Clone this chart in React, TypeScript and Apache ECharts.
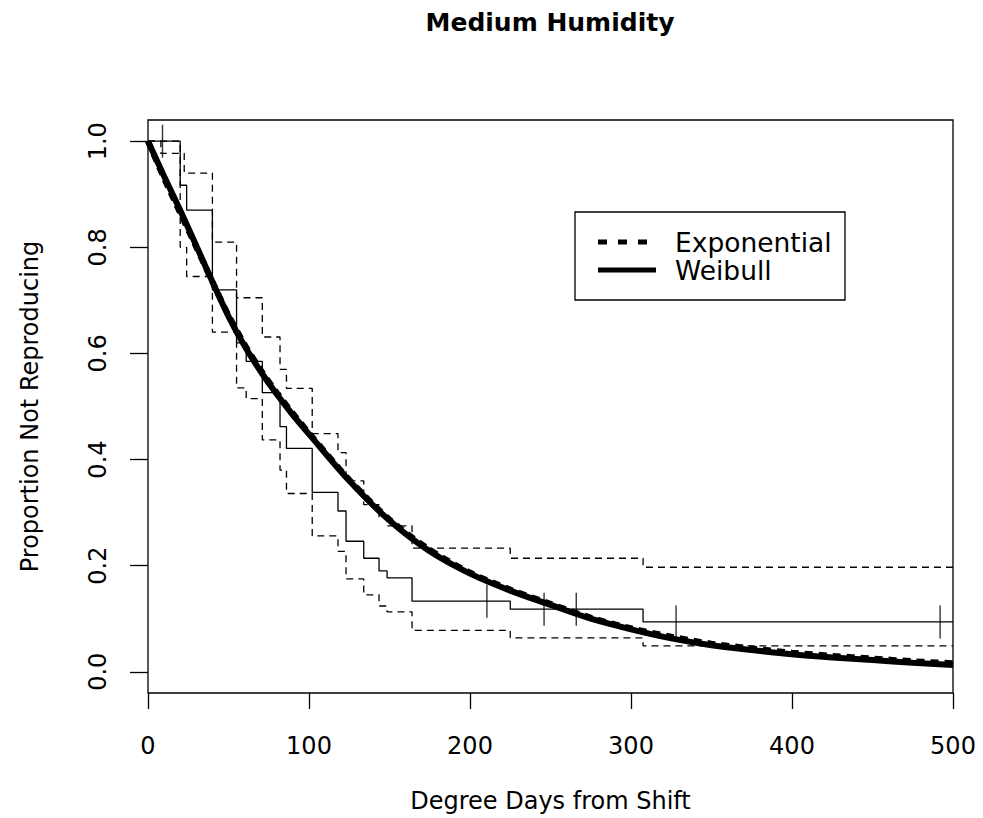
import React, { useEffect, useRef } from "react";
import * as echarts from "echarts";

// ---- Data ----
const xTicks = [0, 100, 200, 300, 400, 500];
const yTicks = [0, 0.2, 0.4, 0.6, 0.8, 1.0];

// Kaplan-Meier estimate (step function)
const kmTimes = [0, 20, 24, 40, 55, 61, 71, 82, 86, 102, 118, 123, 134, 143.5, 148.5, 164, 225, 307.5];
const kmSurv = [1.0, 0.917, 0.87, 0.72, 0.62, 0.585, 0.526, 0.462, 0.421, 0.338, 0.303, 0.246, 0.214, 0.19, 0.177, 0.133, 0.118, 0.094];

// Upper confidence band
const upperTimes = [0, 8, 22.5, 40, 55, 71, 82, 86, 102, 118, 123, 134, 143.5, 148.5, 164, 225, 307.5];
const upperSurv = [1.0, 0.977, 0.94, 0.81, 0.705, 0.631, 0.57, 0.534, 0.449, 0.413, 0.36, 0.315, 0.29, 0.275, 0.233, 0.214, 0.197];

// Lower confidence band
const lowerTimes = [0, 20, 24, 40, 55, 61, 71, 82, 86, 102, 118, 123, 134, 143.5, 148.5, 164, 225, 307.5];
const lowerSurv = [1.0, 0.8, 0.745, 0.64, 0.535, 0.515, 0.437, 0.38, 0.336, 0.256, 0.227, 0.175, 0.145, 0.124, 0.113, 0.078, 0.064, 0.049];

// Censoring marks
const censorTimes = [9, 210.5, 246, 266, 328, 492];
const censorSurv = [1.0, 0.133, 0.118, 0.118, 0.094, 0.094];

// Fitted curves
const fitTimes = [0, 10, 20, 30, 40, 50, 60, 70, 80, 90, 100, 125, 150, 175, 200, 225, 250, 275, 300, 325, 350, 375, 400, 425, 450, 475, 500];
const weibullSurv = [1.0, 0.934, 0.87, 0.803, 0.735, 0.67, 0.614, 0.566, 0.523, 0.484, 0.448, 0.36, 0.285, 0.227, 0.185, 0.153, 0.126, 0.1, 0.08, 0.063, 0.05, 0.041, 0.033, 0.027, 0.022, 0.017, 0.013];
const expSurv = [1.0, 0.93, 0.865, 0.8, 0.735, 0.672, 0.617, 0.569, 0.526, 0.487, 0.45, 0.362, 0.287, 0.23, 0.187, 0.155, 0.128, 0.102, 0.082, 0.066, 0.053, 0.044, 0.036, 0.03, 0.025, 0.02, 0.016];

const X_MAX = 500;

function stepData(times: number[], vals: number[]) {
  const d = times.map((t, i) => [t, vals[i]]);
  d.push([X_MAX, vals[vals.length - 1]]);
  return d;
}

const FONT = "DejaVu Sans, Liberation Sans, Arial, sans-serif";

export default function App() {
  const ref = useRef<HTMLDivElement>(null);
  useEffect(() => {
    if (!ref.current) return;
    const chart = echarts.init(ref.current, null, { renderer: "svg" });
    const option: any = {
      animation: false,
      backgroundColor: "#ffffff",
      textStyle: { fontFamily: FONT, color: "#000" },
      grid: {
        left: 148,
        top: 120,
        width: 805,
        height: 573,
        show: true,
        borderColor: "#000",
        borderWidth: 1.3,
        backgroundColor: "transparent",
      },
      xAxis: {
        type: "value",
        min: 0,
        max: X_MAX,
        interval: 100,
        axisLine: { show: false, onZero: false },
        axisTick: { show: true, length: 16, lineStyle: { color: "#000", width: 1.3 } },
        axisLabel: { fontSize: 24, color: "#000", margin: 41, fontFamily: FONT },
        splitLine: { show: false },
        name: "Degree Days from Shift",
        nameLocation: "middle",
        nameGap: 96,
        nameTextStyle: { fontSize: 24, color: "#000", fontFamily: FONT },
      },
      yAxis: {
        type: "value",
        min: -0.04,
        max: 1.04,
        axisLine: { show: false, onZero: false },
        axisTick: { show: true, length: 18, customValues: yTicks, lineStyle: { color: "#000", width: 1.3 } },
        axisLabel: {
          customValues: yTicks,
          rotate: 90,
          fontSize: 24,
          color: "#000",
          margin: 38,
          fontFamily: FONT,
          formatter: (v: number) => v.toFixed(1),
        },
        splitLine: { show: false },
        name: "Proportion Not Reproducing",
        nameLocation: "middle",
        nameGap: 106,
        nameTextStyle: { fontSize: 24, color: "#000", fontFamily: FONT },
      },
      graphic: [
        {
          type: "text",
          x: 550,
          y: 22,
          style: {
            text: "Medium Humidity",
            fontSize: 25,
            fontWeight: "bold",
            fontFamily: FONT,
            fill: "#000",
            textAlign: "center",
            textVerticalAlign: "middle",
          },
        },
        {
          type: "rect",
          shape: { x: 575, y: 212, width: 270, height: 88 },
          style: { fill: "#fff", stroke: "#000", lineWidth: 1.3 },
          z: 10,
        },
        {
          type: "line",
          shape: { x1: 598, y1: 242, x2: 656, y2: 242 },
          style: { stroke: "#000", lineWidth: 5, lineDash: [9, 11] },
          z: 11,
        },
        {
          type: "line",
          shape: { x1: 598, y1: 270, x2: 656, y2: 270 },
          style: { stroke: "#000", lineWidth: 5 },
          z: 11,
        },
        {
          type: "text",
          x: 675,
          y: 242,
          style: { text: "Exponential", fontSize: 26.5, fontFamily: FONT, fill: "#000", textVerticalAlign: "middle" },
          z: 11,
        },
        {
          type: "text",
          x: 675,
          y: 270,
          style: { text: "Weibull", fontSize: 26.5, fontFamily: FONT, fill: "#000", textVerticalAlign: "middle" },
          z: 11,
        },
      ],
      series: [
        {
          name: "Upper CI",
          type: "line",
          step: "end",
          data: stepData(upperTimes, upperSurv),
          symbol: "none",
          lineStyle: { color: "#000", width: 1.3, type: [7, 5] },
        },
        {
          name: "Lower CI",
          type: "line",
          step: "end",
          data: stepData(lowerTimes, lowerSurv),
          symbol: "none",
          lineStyle: { color: "#000", width: 1.3, type: [7, 5] },
        },
        {
          name: "Kaplan-Meier",
          type: "line",
          step: "end",
          data: stepData(kmTimes, kmSurv),
          symbol: "none",
          lineStyle: { color: "#000", width: 1.3 },
        },
        {
          name: "Censored",
          type: "scatter",
          data: censorTimes.map((t, i) => [t, censorSurv[i]]),
          symbol: "rect",
          symbolSize: [1.4, 33],
          itemStyle: { color: "#000" },
        },
        {
          name: "Exponential",
          type: "line",
          data: fitTimes.map((t, i) => [t, expSurv[i]]),
          smooth: 0.3,
          symbol: "none",
          lineStyle: { color: "#000", width: 6, type: [8, 6] },
        },
        {
          name: "Weibull",
          type: "line",
          data: fitTimes.map((t, i) => [t, weibullSurv[i]]),
          smooth: 0.3,
          symbol: "none",
          lineStyle: { color: "#000", width: 6 },
        },
      ],
    };
    chart.setOption(option);
    return () => chart.dispose();
  }, []);
  return (
    <div
      ref={ref}
      style={{ position: "fixed", left: 0, top: 0, width: 983, height: 818, background: "#fff" }}
    />
  );
}
